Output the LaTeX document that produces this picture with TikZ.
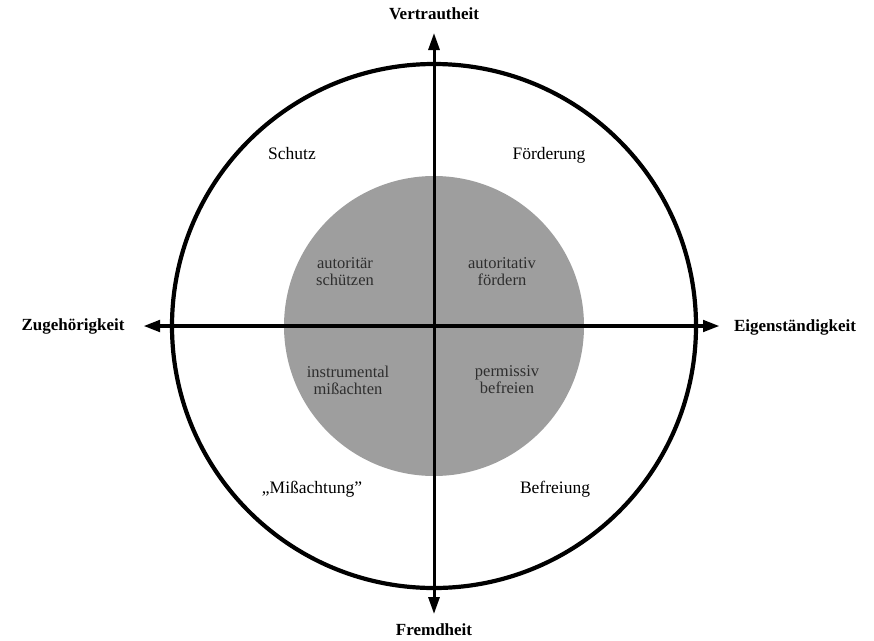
\documentclass[tikz,border=0pt]{standalone}
\usepackage{fontspec}
\setmainfont{Liberation Serif}
\usetikzlibrary{arrows.meta}
\begin{document}
\begin{tikzpicture}[x=1pt,y=-1pt,
  axislabel/.style={font=\fontsize{17}{18}\selectfont\bfseries, inner sep=0pt},
  quadlabel/.style={font=\fontsize{17.5}{18}\selectfont, inner sep=0pt, text=black},
  innerlabel/.style={font=\fontsize{16.5}{17}\selectfont, align=center, inner sep=0pt, text=black!82},
  axis/.style={-{Triangle[length=17pt,width=11pt]}},
]
\useasboundingbox (0,0) rectangle (874,640);
\coordinate (c) at (434,326);
\fill[black!38] (c) circle[radius=150];
\draw[line width=4.2pt] (c) circle[radius=262];
% axis ends
\coordinate (top) at (434,33);
\coordinate (bot) at (434,614);
\coordinate (lft) at (143,326);
\coordinate (rgt) at (720,326);
\draw[axis, line width=3pt] (c) -- (top);
\draw[axis, line width=3pt] (c) -- (bot);
\draw[axis, line width=4.6pt] (c) -- (lft);
\draw[axis, line width=4.6pt] (c) -- (rgt);
% axis labels
\node[axislabel] (v) at (434,14) {Vertrautheit};
\node[axislabel] (f) at (434,630) {Fremdheit};
\node[axislabel] (z) at (73,326) {Zugehörigkeit};
\node[axislabel] (e) at (795,327) {Eigenständigkeit};
% quadrant labels
\node[quadlabel] (q1) at (292,154) {Schutz};
\node[quadlabel] (q2) at (549,155) {Förderung};
\node[quadlabel] (q3) at (312,489) {„Mißachtung”};
\node[quadlabel] (q4) at (555,489) {Befreiung};
% inner labels
\node[innerlabel] (i1) at (345,272) {autoritär\\schützen};
\node[innerlabel] (i2) at (502,272) {autoritativ\\fördern};
\node[innerlabel] (i3) at (348,380) {instrumental\\mißachten};
\node[innerlabel] (i4) at (507,380) {permissiv\\befreien};
\end{tikzpicture}
\end{document}
